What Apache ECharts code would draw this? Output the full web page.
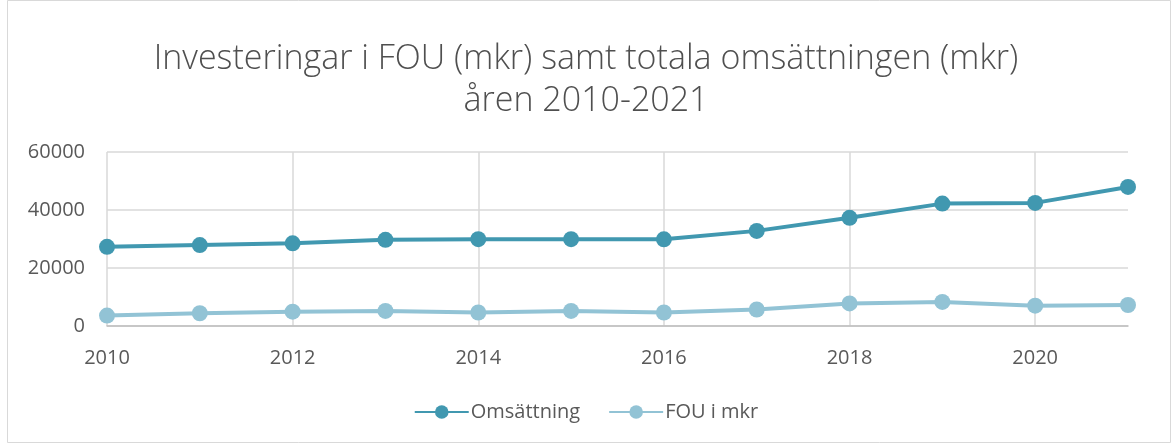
<!DOCTYPE html>
<html>
<head>
<meta charset="utf-8">
<script src="https://cdn.jsdelivr.net/npm/echarts@6/dist/echarts.min.js"></script>
<style>
html,body{margin:0;padding:0;background:#fff;}
#c{width:1172px;height:444px;}
</style>
</head>
<body>
<div id="c"></div>
<script>
var years = ['2010','2011','2012','2013','2014','2015','2016','2017','2018','2019','2020','2021'];
var omsattning = [27300, 27900, 28500, 29700, 29950, 29950, 29900, 32800, 37300, 42200, 42450, 47950];
var fou = [3600, 4400, 4950, 5200, 4650, 5200, 4650, 5700, 7800, 8300, 7000, 7250];
var yTicks = [0, 20000, 40000, 60000];

var chart = echarts.init(document.getElementById('c'), null, {renderer:'canvas'});
var txt = '#595959';
chart.setOption({
  animation: false,
  backgroundColor: '#fff',
  title: {
    text: 'Investeringar i FOU (mkr) samt totala omsättningen (mkr)\nåren 2010-2021',
    left: 'center',
    top: 33,
    textStyle: {fontFamily: 'Open Sans', fontWeight: 300, fontSize: 34, color: '#4f4f4f', lineHeight: 42}
  },
  graphic: [{
    type: 'rect', shape: {x: 7.5, y: 0.5, width: 1163, height: 442},
    style: {fill: 'none', stroke: '#d9d9d9', lineWidth: 1}, silent: true
  }],
  legend: {
    bottom: 17,
    left: 'center',
    itemWidth: 54,
    itemHeight: 17,
    itemGap: 28,
    textStyle: {fontFamily: 'Open Sans', fontSize: 20, color: txt, padding: [0,0,0,-3]},
    data: ['Omsättning', 'FOU i mkr']
  },
  grid: {left: 107, right: 44, top: 152, bottom: 118, containLabel: false},
  xAxis: {
    type: 'category',
    data: years,
    boundaryGap: false,
    axisLine: {lineStyle: {color: '#bfbfbf', width: 1.5}},
    axisTick: {show: false},
    axisLabel: {interval: 1, color: txt, fontFamily: 'Open Sans', fontSize: 20, margin: 22},
    splitLine: {show: true, interval: 1, lineStyle: {color: '#d9d9d9', width: 1.5}}
  },
  yAxis: {
    type: 'value',
    min: yTicks[0], max: yTicks[yTicks.length-1], interval: 20000,
    axisLine: {show: false},
    axisTick: {show: false},
    axisLabel: {color: txt, fontFamily: 'Open Sans', fontSize: 20, margin: 22,
      formatter: function (v) { return String(v); }},
    splitLine: {lineStyle: {color: '#d9d9d9', width: 1.5}}
  },
  series: [{
    name: 'Omsättning', type: 'line', data: omsattning,
    symbol: 'circle', symbolSize: 16,
    lineStyle: {color: '#4198b0', width: 4},
    itemStyle: {color: '#4198b0'}
  }, {
    name: 'FOU i mkr', type: 'line', data: fou,
    symbol: 'circle', symbolSize: 16,
    lineStyle: {color: '#92c3d5', width: 4},
    itemStyle: {color: '#92c3d5'}
  }]
});
</script>
</body>
</html>
